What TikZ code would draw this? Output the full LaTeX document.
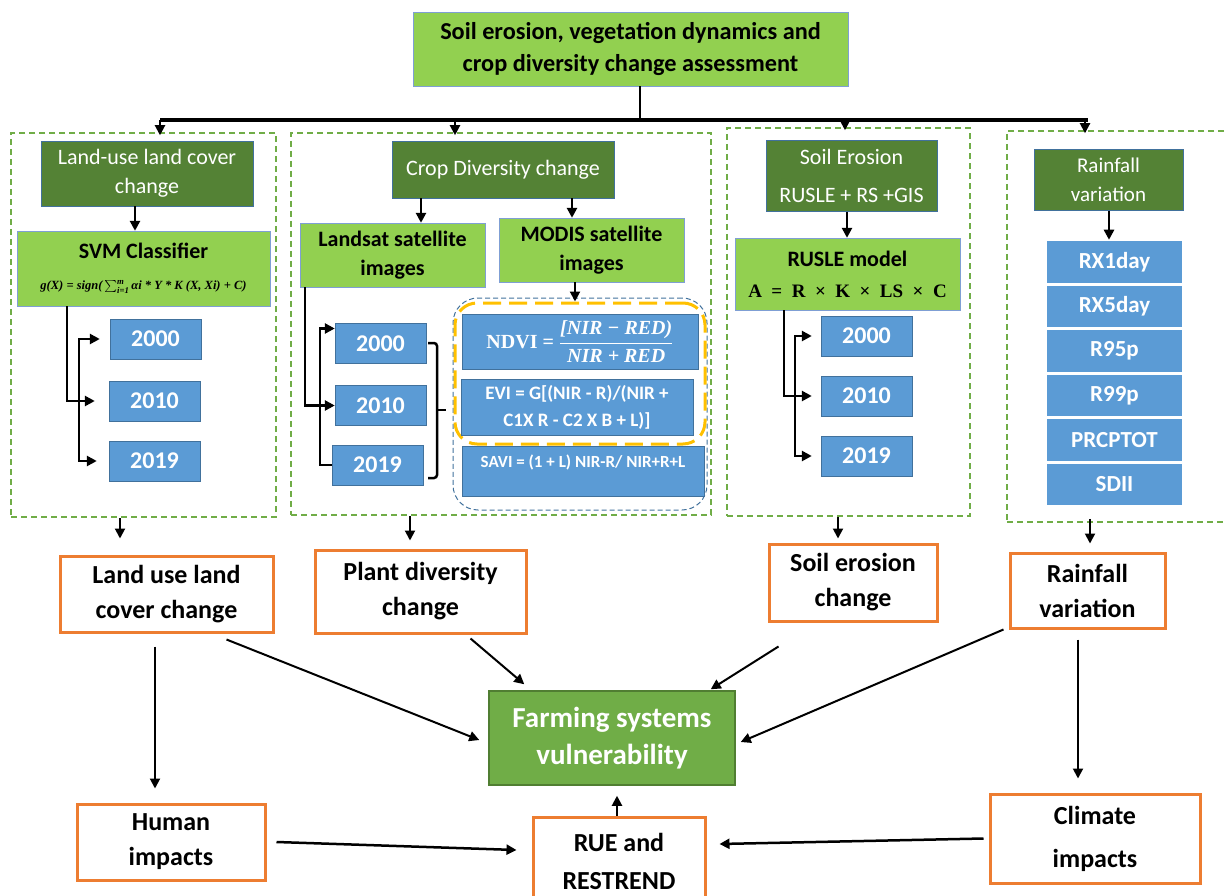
\documentclass[tikz,border=0pt]{standalone}
\usepackage{amsmath}
\usepackage[no-math]{fontspec}
\setmainfont{Carlito}
\newfontfamily\mathserif{Liberation Serif}
\usetikzlibrary{arrows.meta}

\definecolor{ltgreen}{HTML}{92D050}
\definecolor{dkgreen}{HTML}{548235}
\definecolor{midgreen}{HTML}{70AD47}
\definecolor{edgegreen}{HTML}{507E32}
\definecolor{yrblue}{HTML}{5B9BD5}
\definecolor{edgeblue}{HTML}{41719C}
\definecolor{lightedge}{HTML}{7F9FD4}
\definecolor{orng}{HTML}{ED7D31}
\definecolor{amber}{HTML}{FFC000}

\newcommand{\bitext}[1]{\text{\mathserif\bfseries\itshape #1}}
\newsavebox{\ndvibox}
\newsavebox{\svmbox}
\newsavebox{\uslebox}

\tikzset{
	boxsize/.style 2 args={minimum width=#1pt, minimum height=#2pt},
	topbox/.style={draw=lightedge, fill=ltgreen, align=center, inner sep=0pt, font=\bfseries\fontsize{24.3}{32}\selectfont},
	headbox/.style={draw=edgeblue, fill=dkgreen, text=white, align=center, inner sep=0pt, font=\fontsize{22}{29}\selectfont},
	litebox/.style={draw=lightedge, fill=ltgreen, align=center, inner sep=0pt, font=\bfseries\fontsize{22}{29}\selectfont},
	yearbox/.style={draw=edgeblue, fill=yrblue, text=white, inner sep=0pt, boxsize={91}{40}, font=\bfseries\fontsize{24}{24}\selectfont},
	vibox/.style={draw=edgeblue, fill=yrblue, text=white, align=center, inner sep=0pt, font=\bfseries\fontsize{19}{27}\selectfont},
	rainbox/.style={draw=white, line width=1.5pt, fill=yrblue, text=white, inner sep=0pt, boxsize={137}{43}, font=\bfseries\fontsize{23}{23}\selectfont},
	panel/.style={draw=midgreen, line width=1.5pt, dash pattern=on 6pt off 4pt},
	outbox/.style={draw=orng, line width=3pt, fill=white, align=center, inner sep=0pt, font=\bfseries\fontsize{26}{35}\selectfont},
	link/.style={->, line width=2.5pt},
	thin link/.style={->, line width=2pt}
}

\begin{document}
\sbox{\svmbox}{\fontsize{12.5}{13}\selectfont$\bitext{g(X) = sign(}\textstyle\sum_{\bitext{i=1}}^{\bitext{m}}\bitext{αi * Y * K (X, Xi) + C)}$}
\sbox{\ndvibox}{\color{white}\fontsize{20}{20}\selectfont$\text{\mathserif\bfseries NDVI = }\dfrac{\bitext{[NIR − RED)}}{\bitext{NIR + RED}}$}
\sbox{\uslebox}{\fontsize{19}{19}\selectfont\mathserif\bfseries A\enspace=\enspace R\enspace×\enspace K\enspace×\enspace LS\enspace×\enspace C}
\begin{tikzpicture}[x=1pt,y=-1pt,>={Triangle[length=10pt,width=10pt]}]
	\useasboundingbox (0,0) rectangle (1226,896);
	% title and bus
	\node[topbox, boxsize={435}{74}] (top) at (630.5,49) {Soil erosion, vegetation dynamics and\\crop diversity change assessment};
	\coordinate (bus) at (640,120);
	\draw[line width=1.5pt] (top.south -| bus) -- (bus);
	\draw[line width=3.5pt] (160,120) -- (1088,120);
	% panels
	\node[panel, boxsize={265}{384}] (pluc) at (143.5,325) {};
	\node[panel, boxsize={420}{382}] (pcdc) at (501,324) {};
	\node[panel, boxsize={243}{388}] (pse) at (848.5,322) {};
	\node[panel, boxsize={233}{391}] (prf) at (1123.5,326.5) {};
	\foreach \xx/\pp in {160/luc, 455/cdc, 845/se, 1085/rf}
		\draw[thin link, shorten >=-3pt] (\xx,120) -- (p\pp.north -| \xx,0);

	% land use panel
	\node[headbox, boxsize={212}{65}] (luchead) at (147,173.5) {Land-use land cover\\change};
	\node[litebox, boxsize={253}{75}] (svm) at (143.5,268.5) {SVM Classifier\\[2pt]\usebox{\svmbox}};
	\draw[link] (luchead.south -| 135,0) -- (svm.north -| 135,0);
	\node[yearbox] (luc2000) at (155.5,339) {2000};
	\node[yearbox] (luc2010) at (154.5,401) {2010};
	\node[yearbox] (luc2019) at (154.5,461) {2019};
	\draw[link] (svm.south -| 67,0) |- ([xshift=-14pt]luc2010.west);
	\draw[link, <->] ([xshift=-10pt]luc2000.west) -| (79,401) |- ([xshift=-12pt]luc2019.west);

	% crop diversity panel
	\node[headbox, boxsize={222}{57}] (cdchead) at (503,169.5) {Crop Diversity change};
	\node[litebox, boxsize={185}{64}] (landsat) at (392.5,255) {Landsat satellite\\images};
	\node[litebox, boxsize={185}{64}] (modis) at (591.5,250) {MODIS satellite\\images};
	\draw[link] (cdchead.south -| 421,0) -- (landsat.north -| 421,0);
	\draw[link] (cdchead.south -| 572,0) -- (modis.north -| 572,0);
	\node[yearbox] (cd2000) at (380.5,343.5) {2000};
	\node[yearbox] (cd2010) at (380.5,405.5) {2010};
	\node[yearbox] (cd2019) at (377.5,465) {2019};
	\draw[link] (landsat.south -| 305,0) |- (cd2010.west);
	\draw[link, <-] ([yshift=15pt]cd2000.west) -| (320,400) |- (cd2019.west);
	\draw[line width=2.5pt, rounded corners=3pt] (428,343) -- (437,343) -- (437,478) -- (428,478);
	\draw[line width=2.5pt] (437,410) -- (446,410);
	\node[draw=edgeblue, line width=1pt, dash pattern=on 5pt off 3pt, rounded corners=25pt, boxsize={254}{212}] (idxgrp) at (580,404) {};
	\node[draw=amber, line width=3pt, dash pattern=on 18pt off 8pt, rounded corners=22pt, boxsize={250}{141}] (ndvigrp) at (580,373.5) {};
	\draw[thin link] (modis.south -| 575,0) -- (ndvigrp.north -| 575,0);
	\node[vibox, boxsize={236}{55}] (ndvi) at (580,341.5) {\usebox{\ndvibox}};
	\node[vibox, boxsize={232}{56}] (evi) at (577,407) {EVI = G[(NIR - R)/(NIR +\\C1X R - C2 X B + L)]};
	\node[vibox, anchor=north, minimum width=242pt, inner ysep=4pt, text height=17pt, text depth=25pt, font=\bfseries\fontsize{17}{17}\selectfont] (savi) at (583,446) {SAVI = (1 + L) NIR-R/ NIR+R+L};

	% soil erosion panel
	\node[headbox, boxsize={171}{71}, font=\fontsize{22}{38}\selectfont] (sehead) at (851.5,176) {Soil Erosion\\RUSLE + RS +GIS};
	\node[litebox, boxsize={225}{72}] (rusle) at (847.5,274) {RUSLE model\\[2pt]\usebox{\uslebox}};
	\draw[link] (sehead.south -| 847,0) -- (rusle.north -| 847,0);
	\node[yearbox] (se2000) at (866.5,336) {2000};
	\node[yearbox] (se2010) at (866.5,396) {2010};
	\node[yearbox] (se2019) at (866.5,456) {2019};
	\draw[link] (rusle.south -| 784,0) |- ([xshift=-9pt]se2010.west);
	\draw[link, <->] ([xshift=-9pt]se2000.west) -| (795,396) |- ([xshift=-9pt]se2019.west);

	% rainfall panel
	\node[headbox, boxsize={149}{61}, font=\fontsize{21}{29}\selectfont] (rfhead) at (1108.5,180) {Rainfall\\variation};
	\foreach \lbl [count=\i] in {RX1day,RX5day,R95p,R99p,PRCPTOT,SDII}
		\node[rainbox] (rx\i) at (1114.5,{262+44.5*(\i-1)}) {\lbl};
	\draw[link] (rfhead.south -| 1109,0) -- (rx1.north -| 1109,0);

	% outcomes
	\node[outbox, boxsize={213}{76}] (lucc) at (166.5,594) {Land use land\\cover change};
	\node[outbox, boxsize={211}{83}] (pdc) at (420.5,591.5) {Plant diversity\\change};
	\node[outbox, boxsize={168}{77}] (sec) at (853,582.5) {Soil erosion\\change};
	\node[outbox, boxsize={155}{75}] (rfv) at (1087.5,590.5) {Rainfall\\variation};
	\node[draw=edgegreen, line width=1.5pt, fill=midgreen, text=white, align=center, inner sep=0pt, boxsize={246}{94}, font=\bfseries\fontsize{29}{37}\selectfont] (fsv) at (612,738) {Farming systems\\vulnerability};
	\node[outbox, boxsize={188}{76}] (human) at (171,842) {Human\\impacts};
	\node[outbox, boxsize={172}{88}, font=\bfseries\fontsize{26}{38}\selectfont] (rue) at (619,861) {RUE and\\RESTREND};
	\node[outbox, boxsize={210}{89}, font=\bfseries\fontsize{26}{43}\selectfont] (climate) at (1095,838.5) {Climate\\impacts};

	\draw[thin link, shorten >=16pt] (pluc.south -| 120,0) -- (lucc.north -| 120,0);
	\draw[thin link, shorten >=8pt] (pcdc.south -| 410,0) -- (pdc.north -| 410,0);
	\draw[thin link, shorten >=4pt] (pse.south -| 838,0) -- (sec.north -| 838,0);
	\draw[thin link, shorten >=8pt, shorten <=-4pt] (prf.south -| 1090,0) -- (rfv.north -| 1090,0);
	\draw[thin link, shorten <=13pt, shorten >=14pt] (lucc.south -| 155,0) -- (human.north -| 155,0);
	\draw[thin link, shorten <=10pt, shorten >=14pt] (rfv.south -| 1078,0) -- (climate.north -| 1078,0);
	\draw[thin link] ([xshift=-48pt,yshift=-6pt]lucc.south east) -- ([xshift=-9pt,yshift=-2pt]fsv.west);
	\draw[thin link] ([xshift=50pt,yshift=-4pt]pdc.south) -- ([xshift=36pt,yshift=6pt]fsv.north west);
	\draw[thin link] ([xshift=11pt,yshift=-24pt]sec.south west) -- ([xshift=-25pt,yshift=1pt]fsv.north east);
	\draw[thin link] ([xshift=-5pt]rfv.south west) -- ([xshift=5pt,yshift=-4pt]fsv.east);
	\draw[link] ([xshift=10pt]human.east) -- ([xshift=-15pt,yshift=11pt]rue.west);
	\draw[link] ([xshift=-5pt]climate.west) -- ([xshift=13pt,yshift=17pt]rue.east);
	\draw[thin link, shorten >=10pt] (rue.north -| 617,0) -- (fsv.south -| 617,0);
\end{tikzpicture}
\end{document}
